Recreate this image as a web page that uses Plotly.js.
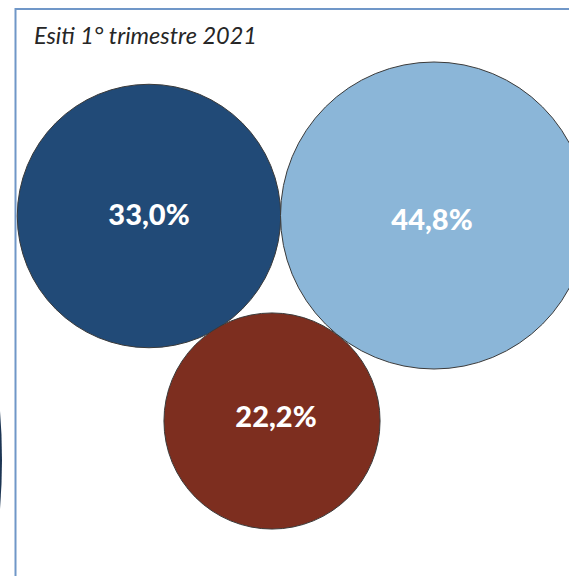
<!DOCTYPE html>
<html>
<head>
<meta charset="utf-8">
<script src="https://cdn.plot.ly/plotly-3.0.1.min.js"></script>
<style>html,body{margin:0;padding:0;background:#fff;}#chart{width:569px;height:576px;}</style>
</head>
<body>
<div id="chart"></div>
<script>
// Data
const categories = ["Esito A", "Esito B", "Esito C"];
const values = [33.0, 44.8, 22.2];
const chartTitle = "Esiti 1° trimestre 2021";

// Layout-only (bubble placement in pixels, styles)
const posX = [149, 434, 272];
const posY = [216, 215.5, 421];
const labelX = [149, 432, 276];
const labelY = [218, 223, 420];
const colors = ["#214A77", "#8BB6D8", "#7D2E1F"];
const maxDiameter = 307;

const labels = values.map(v => v.toFixed(1).replace('.', ',') + '%');
const sizeref = 2 * Math.max(...values) / (maxDiameter * maxDiameter);

const bubbles = {
  type: 'scatter',
  mode: 'markers',
  x: posX,
  y: posY,
  customdata: categories,
  marker: {
    size: values,
    sizemode: 'area',
    sizeref: sizeref,
    color: colors,
    opacity: 1,
    line: {color: '#3a3a3a', width: 1}
  },
  hoverinfo: 'none',
  cliponaxis: false
};

const texts = {
  type: 'scatter',
  mode: 'text',
  x: labelX,
  y: labelY,
  text: labels,
  textposition: 'middle center',
  textfont: {family: 'Lato, "Open Sans", sans-serif', size: 29, color: '#ffffff', weight: 900},
  hoverinfo: 'none',
  cliponaxis: false
};

const layout = {
  width: 569,
  height: 576,
  margin: {l: 0, r: 0, t: 0, b: 0},
  paper_bgcolor: '#ffffff',
  plot_bgcolor: '#ffffff',
  showlegend: false,
  xaxis: {range: [0, 569], visible: false, fixedrange: true},
  yaxis: {range: [576, 0], visible: false, fixedrange: true},
  shapes: [
    {type: 'circle', xref: 'x', yref: 'y', x0: -1198, x1: 2, y0: -140, y1: 1060,
     fillcolor: '#1c3553', line: {width: 0}, layer: 'below'},
    {type: 'rect', xref: 'x', yref: 'y', x0: 15.5, x1: 600, y0: 9, y1: 620,
     fillcolor: '#ffffff', line: {color: '#7097C8', width: 2}, layer: 'below'}
  ],
  annotations: [
    {text: chartTitle, xref: 'x', yref: 'y', x: 32, y: 35, xanchor: 'left', yanchor: 'middle',
     showarrow: false, font: {family: 'Lato, "Open Sans", sans-serif', size: 23.5, color: '#262626', style: 'italic', weight: 400}}
  ]
};

Plotly.newPlot('chart', [bubbles, texts], layout, {displayModeBar: false, staticPlot: true});
</script>
</body>
</html>
